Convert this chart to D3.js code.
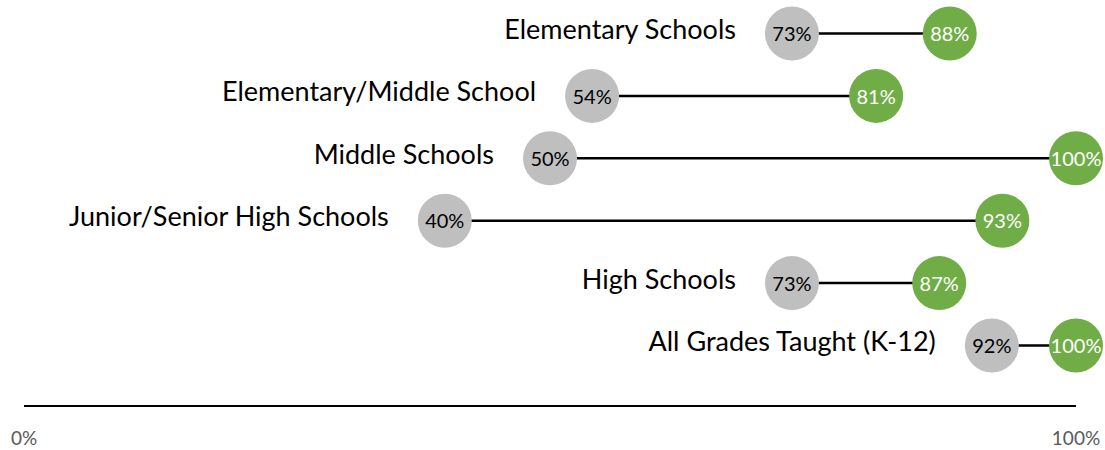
<!DOCTYPE html>
<html>
<head>
<meta charset="utf-8">
<script src="https://cdn.jsdelivr.net/npm/d3@7"></script>
<style>
  html, body { margin: 0; padding: 0; background: #fff; }
  svg { display: block; font-family: Lato, "Open Sans", sans-serif; }
</style>
</head>
<body>
<svg id="chart" width="1105" height="450"></svg>
<script>
// School types and their two percentage values (before / after)
const categories = [
  "Elementary Schools",
  "Elementary/Middle School",
  "Middle Schools",
  "Junior/Senior High Schools",
  "High Schools",
  "All Grades Taught (K-12)"
];
const lowValues  = [73, 54, 50, 40, 73, 92];
const highValues = [88, 81, 100, 93, 87, 100];
const axisTicks  = [0, 100];

const svg = d3.select("#chart");

const x = d3.scaleLinear().domain([0, 100]).range([24, 1076]);
const y = d3.scalePoint().domain(categories).range([33.5, 345.5]);

const R = 27;
const gray = "#BFBFBF", green = "#70AD47";

const rows = categories.map((c, i) => ({ cat: c, lo: lowValues[i], hi: highValues[i] }));

// bottom axis: plain line with percent labels at the ends
svg.append("line")
  .attr("x1", x(0)).attr("x2", x(100))
  .attr("y1", 406).attr("y2", 406)
  .attr("stroke", "#000").attr("stroke-width", 2);

svg.selectAll("text.tick").data(axisTicks).join("text")
  .attr("class", "tick")
  .attr("x", d => x(d)).attr("y", 445)
  .attr("text-anchor", "middle")
  .attr("font-size", 19).attr("fill", "#595959")
  .text(d => d + "%");

const g = svg.selectAll("g.row").data(rows).join("g").attr("class", "row");

// connector between the two values
g.append("line")
  .attr("x1", d => x(d.lo)).attr("x2", d => x(d.hi))
  .attr("y1", d => y(d.cat)).attr("y2", d => y(d.cat))
  .attr("stroke", "#000").attr("stroke-width", 2.5);

// category label to the left of the lower value
g.append("text")
  .attr("x", d => x(d.lo) - R - 29)
  .attr("y", d => y(d.cat) - 4)
  .attr("dy", "0.35em")
  .attr("text-anchor", "end")
  .attr("font-size", 27).attr("fill", "#000")
  .text(d => d.cat);

// lower value marker
g.append("circle")
  .attr("cx", d => x(d.lo)).attr("cy", d => y(d.cat)).attr("r", R)
  .attr("fill", gray);
g.append("text")
  .attr("x", d => x(d.lo)).attr("y", d => y(d.cat))
  .attr("dy", "0.38em").attr("text-anchor", "middle")
  .attr("font-size", 20).attr("fill", "#000")
  .text(d => d.lo + "%");

// higher value marker
g.append("circle")
  .attr("cx", d => x(d.hi)).attr("cy", d => y(d.cat)).attr("r", R)
  .attr("fill", green);
g.append("text")
  .attr("x", d => x(d.hi)).attr("y", d => y(d.cat))
  .attr("dy", "0.38em").attr("text-anchor", "middle")
  .attr("font-size", 20).attr("fill", "#fff")
  .text(d => d.hi + "%");
</script>
</body>
</html>
